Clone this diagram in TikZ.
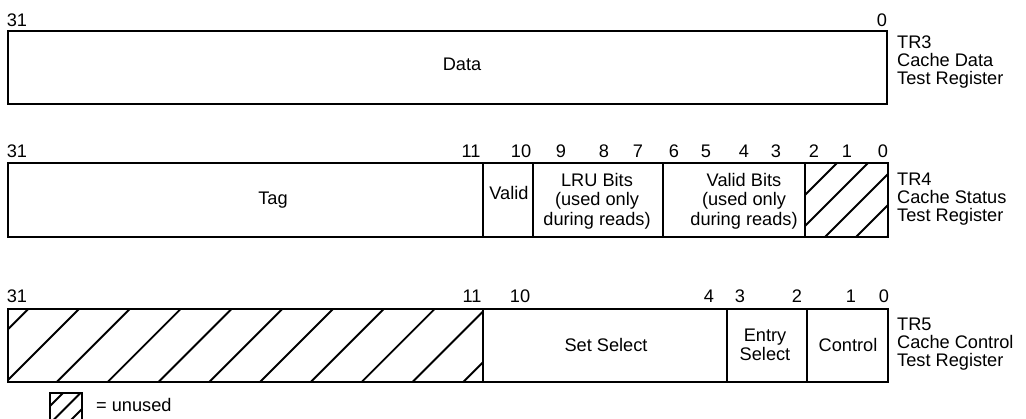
\documentclass[tikz,border=0pt]{standalone}
\usepackage{fontspec}
\setmainfont{Liberation Sans}
\usetikzlibrary{positioning}
\newcommand{\fieldfont}{\fontsize{18.2}{19.5}\selectfont}
\newcommand{\namefont}{\fontsize{18.2}{18}\selectfont}
\tikzset{
  regbox/.style  ={draw=black, line width=2pt},
  hatch/.style   ={draw=black, line width=1.9pt},
  bitno/.style   ={inner sep=0pt, font=\fieldfont},
  fieldtxt/.style={inner sep=0pt, align=center, font=\fieldfont},
  regname/.style ={inner sep=0pt, align=left, anchor=west, font=\namefont},
}
% clipped diagonal lines: x1,y1,x2,y2, first foot x, spacing
\newcommand{\hatchfield}[6]{%
  \begin{scope}
    \clip (#1,#2) rectangle (#3,#4);
    \foreach \k in {0,...,11}{%
      \draw[hatch] ({#5+\k*#6},#4) -- ++(90,-90);}
  \end{scope}}

\begin{document}
\begin{tikzpicture}[x=1pt,y=-1pt]
  \useasboundingbox (0,0) rectangle (1026,418);
  % TR3
  \draw[regbox] (8,31) rectangle (887,104);
  \node[fieldtxt] (data) at (462,64) {Data};
  \foreach \x/\b in {17/31,882/0}
    \node[bitno] (r3b\b) at (\x,20) {\b};
  \node[regname] (tr3) at (897,62) {TR3\\Cache Data\\Test Register};
  % TR4
  \hatchfield{805}{163}{888}{237}{763}{31}
  \draw[regbox] (8,163) rectangle (888,237);
  \foreach \x in {483,533,663,805}
    \draw[regbox] (\x,163) -- (\x,237);
  \foreach \x/\b in {17/31,471/11,521/10,561/9,604/8,638/7,674/6,706/5,744/4,776/3,814/2,847/1,883/0}
    \node[bitno] (r4b\b) at (\x,151) {\b};
  \node[fieldtxt] (tag) at (273,200) {Tag};
  \node[fieldtxt] (valid) at (509,193) {Valid};
  \node[fieldtxt] (lru) at (597,201) {LRU Bits\\(used only\\during reads)};
  \node[fieldtxt] (vbits) at (744,201) {Valid Bits\\(used only\\during reads)};
  \node[regname] (tr4) at (897,199) {TR4\\Cache Status\\Test Register};
  % TR5
  \hatchfield{8}{309}{483}{382}{-44.8}{50.8}
  \draw[regbox] (8,309) rectangle (888,382);
  \foreach \x in {483,727,807}
    \draw[regbox] (\x,309) -- (\x,382);
  \foreach \x/\b in {17/31,472/11,520/10,709/4,740/3,797/2,851/1,884/0}
    \node[bitno] (r5b\b) at (\x,296) {\b};
  \node[fieldtxt] (setsel) at (606,345) {Set Select};
  \node[fieldtxt] (entry) at (765,345) {Entry\\Select};
  \node[fieldtxt] (ctrl) at (848,345) {Control};
  \node[regname] (tr5) at (897,344) {TR5\\Cache Control\\Test Register};
  % legend
  \hatchfield{50}{393}{82}{425}{31}{17.5}
  \draw[regbox] (50,393) rectangle (82,425);
  \node[regname] (unused) at (96,405) {= unused};
\end{tikzpicture}
\end{document}
